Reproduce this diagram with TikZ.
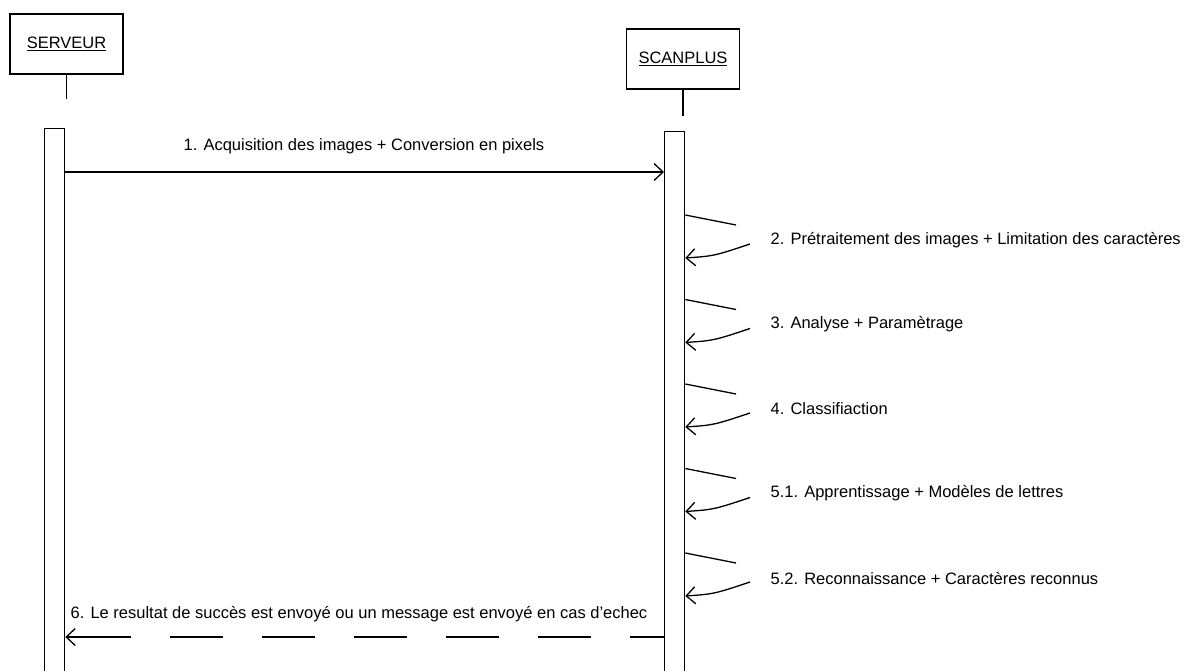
\documentclass[tikz,border=0pt]{standalone}
\usepackage{fontspec}
\setmainfont{Liberation Sans}
\usetikzlibrary{arrows.meta}
\begin{document}
\begin{tikzpicture}[x=1pt,y=-1pt,
  line width=1.3pt,
  every node/.style={font=\fontsize{16.5}{19}\selectfont},
  actor/.style={draw, minimum width=113pt, minimum height=60pt, inner sep=0pt},
  bar/.style={draw, fill=white, minimum width=20pt, minimum height=600pt, inner sep=0pt, anchor=north west},
  msg/.style={-{Straight Barb[length=9pt,width=17pt]}},
  lbl/.style={inner sep=0pt, anchor=west}]
\clip (0,0) rectangle (1186,670);

% lifeline heads
\node[actor] (serveur) at (66.5,44) {\underline{SERVEUR}};
\node[actor] (scanplus) at (683,59) {\underline{SCANPLUS}};
\draw (serveur.south) -- ++(0,24);
\draw (scanplus.south) -- ++(0,26);

% activation bars
\node[bar] (sbar) at (44,128) {};
\node[bar] (cbar) at (664,131) {};

% 1. synchronous call
\coordinate (m1) at (0,172);
\draw[msg] (sbar.east |- m1) -- (cbar.west |- m1);
\node[inner sep=0pt] (t1) at (364,146) {1. Acquisition des images + Conversion en pixels};

% self messages on SCANPLUS
\foreach \y/\n/\txt in {
  215/a/{2. Prétraitement des images + Limitation des caractères},
  299.5/b/{3. Analyse + Paramètrage},
  384/c/{4. Classifiaction},
  468.5/d/{5.1. Apprentissage + Modèles de lettres},
  553/e/{5.2. Reconnaissance + Caractères reconnus}}{
  \coordinate (s\n) at (0,\y);
  \coordinate (r\n) at (0,\y+43);
  \coordinate (u\n) at (736,\y+10);
  \coordinate (l\n) at (750,\y+29);
  \draw (cbar.east |- s\n) -- (u\n);
  \draw[msg] (l\n) .. controls (714,\y+41) .. (cbar.east |- r\n);
  \node[lbl] (lab\n) at (770,\y+25) {\txt};
}

% 6. return message (dashed, last dash runs into the arrow head)
\coordinate (m6) at (0,637);
\coordinate (m6end) at (130,637);
\draw[dash pattern=on 53pt off 39pt, dash phase=19pt] (cbar.west |- m6) -- (m6end);
\draw[msg] (m6end) -- (sbar.east |- m6);
\node[inner sep=0pt] (t6) at (359,614) {6. Le resultat de succès est envoyé ou un message est envoyé en cas d'echec};
\end{tikzpicture}
\end{document}
